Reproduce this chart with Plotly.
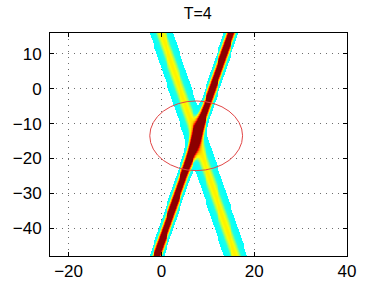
import numpy as np
import plotly.graph_objects as go

# ---- data ----
title_text = "T=4"
x_range = [-24, 40]
y_range = [-48, 16]
x_ticks = [-20, 0, 20, 40]
y_ticks = [-40, -30, -20, -10, 0, 10]

# two beams: centre-line x at bottom (y=-48) and top (y=16)
beam_x_bottom = [-1.0, 16.0]
beam_x_top = [15.0, 0.0]
beam_peak = [1.35, 0.5]
beam_sigma = [0.68, 1.4]
cross_term = 0.15
display_floor = 0.1   # below this the field is left blank (white)
display_ceiling = 1.0

circle_center = [7.5, -13.5]
circle_radius = 10.0

# ---- field ----
step = 0.2
xs = np.arange(x_range[0], x_range[1] + step / 2, step)
ys = np.arange(y_range[0], y_range[1] + step / 2, step)
X, Y = np.meshgrid(xs, ys)
ints = []
for xb, xt, a, s in zip(beam_x_bottom, beam_x_top, beam_peak, beam_sigma):
    xc = xb + (xt - xb) * (Y - y_range[0]) / (y_range[1] - y_range[0])
    ints.append(a * np.exp(-((X - xc) ** 2) / (2 * s ** 2)))
Z = ints[0] + ints[1] + 2 * cross_term * np.sqrt(ints[0] * ints[1])
Z = np.where(Z < display_floor, np.nan, np.round(Z, 3))

colorscale = [
    [0.0, "rgb(0,255,255)"],
    [0.26, "rgb(30,255,230)"],
    [0.34, "rgb(150,255,110)"],
    [0.42, "rgb(255,255,0)"],
    [0.6, "rgb(255,150,0)"],
    [0.78, "rgb(255,0,0)"],
    [0.9, "rgb(170,0,0)"],
    [1.0, "rgb(140,0,0)"],
]

fig = go.Figure()
fig.add_trace(go.Heatmap(
    x=xs, y=ys, z=Z, colorscale=colorscale,
    zmin=display_floor, zmax=display_ceiling, showscale=False,
    hoverongaps=False,
))
fig.add_shape(type="circle", xref="x", yref="y",
              x0=circle_center[0] - circle_radius, x1=circle_center[0] + circle_radius,
              y0=circle_center[1] - circle_radius, y1=circle_center[1] + circle_radius,
              line=dict(color="rgb(225,70,70)", width=1))

tick_font = dict(family="Liberation Sans, Arial, sans-serif", size=17, color="black")
title_font = dict(family="Liberation Sans, Arial, sans-serif", size=16, color="black")
axis_common = dict(
    showgrid=True, griddash="1px,5px", gridcolor="rgb(110,110,110)", gridwidth=1,
    zeroline=False, showline=True, linecolor="black", linewidth=1, mirror="ticks",
    ticks="inside", ticklen=4, tickcolor="black", tickfont=tick_font, automargin=False,
)
fig.update_xaxes(range=x_range, tickvals=x_ticks, ticktext=[str(v).replace("-", "\u2212") for v in x_ticks], **axis_common)
fig.update_yaxes(range=y_range, tickvals=y_ticks, ticktext=[str(v).replace("-", "\u2212") for v in y_ticks],
                 ticklabelstandoff=4, **axis_common)
fig.update_layout(
    width=384, height=288,
    margin=dict(l=50, r=37, t=33, b=32, autoexpand=False),
    paper_bgcolor="white", plot_bgcolor="white",
    title=dict(text=title_text, x=0.515, xanchor="center", y=1 - 13 / 288, yanchor="middle",
               yref="container", font=title_font),
    font=tick_font,
)
fig.write_html("out.html", config={"displayModeBar": False},
               post_script="document.body.style.margin='0';document.body.style.overflow='hidden';")
